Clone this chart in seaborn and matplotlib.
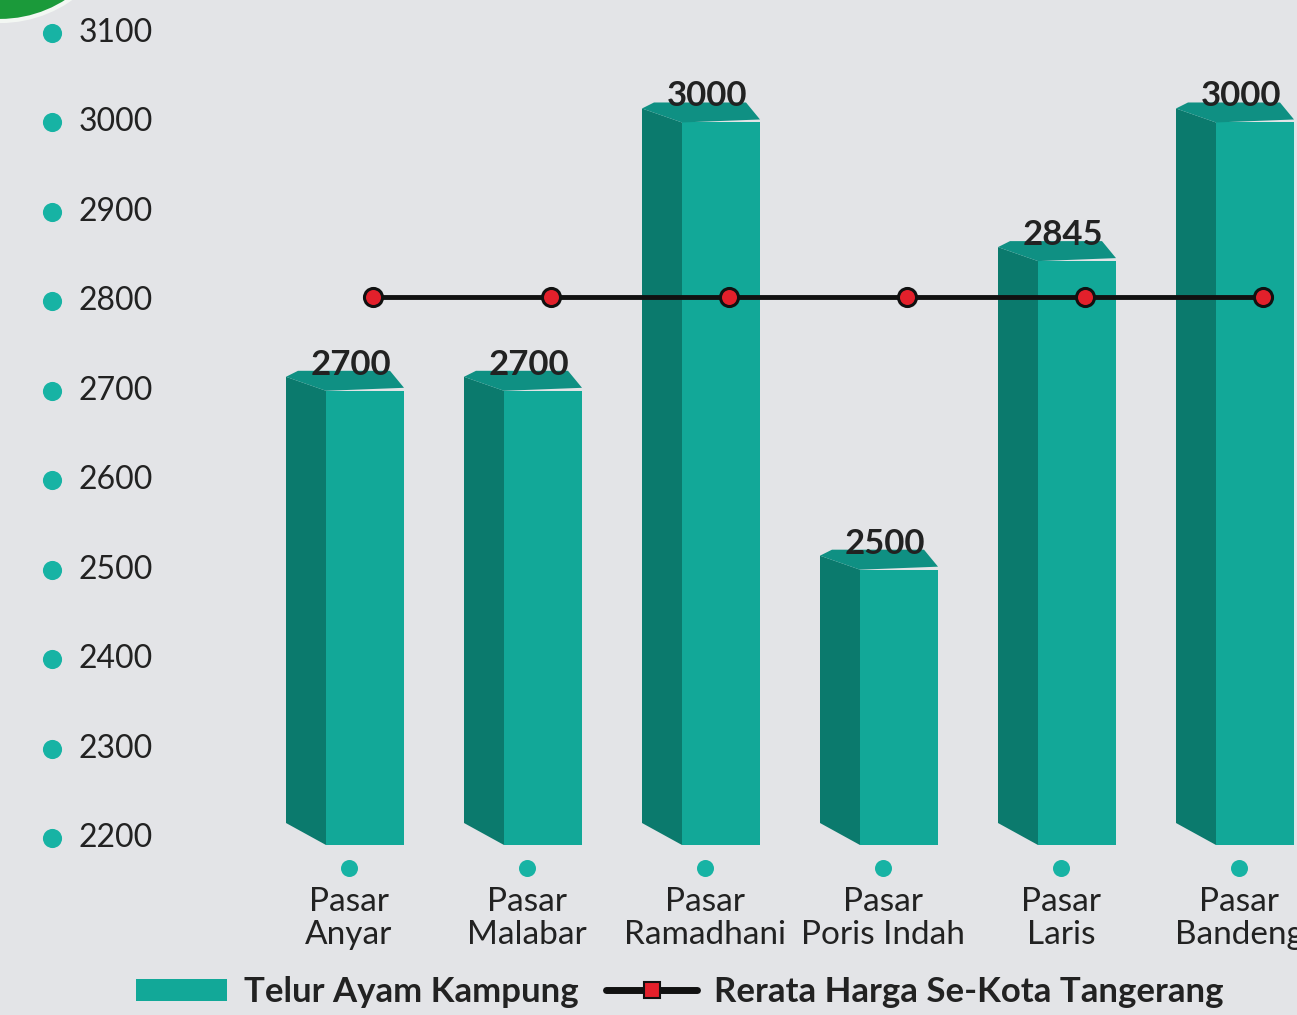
import numpy as np
import pandas as pd
import matplotlib.pyplot as plt
import seaborn as sns
from matplotlib.patches import Polygon, Circle, Patch
from matplotlib.lines import Line2D
import matplotlib.transforms as mtransforms

# chart data
pasar = ["Pasar\nAnyar", "Pasar\nMalabar", "Pasar\nRamadhani", "Pasar\nPoris Indah", "Pasar\nLaris", "Pasar\nBandeng"]
harga_telur = [2700, 2700, 3000, 2500, 2845, 3000]
rerata_kota = [2805, 2805, 2805, 2805, 2805, 2805]
y_ticks = [2200, 2300, 2400, 2500, 2600, 2700, 2800, 2900, 3000, 3100]

# colours
FRONT = "#12a898"
SIDE = "#0b7a6d"
TOP = "#0f9083"
DOT = "#17b3a4"
BG = "#e3e4e7"
TXT = "#222222"

sns.set_style("white")
plt.rcParams["font.family"] = ["Lato", "DejaVu Sans"]

W, H = 1297, 1015
fig = plt.figure(figsize=(W / 100, H / 100), dpi=100)
fig.patch.set_facecolor(BG)
ax = fig.add_axes([0, 0, 1, 1])
ax.set_facecolor(BG)

# pixel <-> data scale
px_x = 1 / 178.0          # data units per pixel in x
px_y = 100 / 89.44        # data units per pixel in y
xlim = (-345 * px_x, (W - 345) * px_x)
ylim = (2200 - (H - 838) * px_y, 2200 + 838 * px_y)
base = 2200 - 7 * px_y

df = pd.DataFrame({"pasar": pasar, "harga": harga_telur})
front_w = 78 * px_x
side_w = 40 * px_x
sns.barplot(data=df, x="pasar", y="harga", color=FRONT, width=front_w,
            saturation=1, ax=ax, zorder=2)
ax.set_xlim(*xlim)
ax.set_ylim(*ylim)

for i, (bar, val) in enumerate(zip(ax.patches, harga_telur)):
    # shift the front face right so side + front are centred on the category
    fx = i - 59 * px_x + side_w
    bar.set_x(fx)
    bar.set_y(base)
    bar.set_height(val - base)
    bar.set_edgecolor("none")
    x0 = fx - side_w
    top_up = 14 * px_y
    # dark left face
    side = Polygon([(x0, base + 22 * px_y), (x0, val + top_up), (fx, val),
                    (fx, base)], closed=True, fc=SIDE, ec="none", zorder=2)
    ax.add_patch(side)
    # roof
    roof = Polygon([(x0, val + top_up), (x0 + 12 * px_x, val + 20 * px_y),
                    (fx + front_w - 14 * px_x, val + 20 * px_y),
                    (fx + front_w, val + 3 * px_y), (fx, val)],
                   closed=True, fc=TOP, ec="none", zorder=2)
    ax.add_patch(roof)
    # value label
    ax.text(i + 6 * px_x, val + 16 * px_y, f"{val}", ha="center", va="baseline",
            fontsize=25, fontweight="bold", color=TXT, zorder=5)

# average line
xs = np.arange(len(pasar)) + 28 * px_x
ax.plot(xs, rerata_kota, color="#111111", lw=3.5, marker="o", ms=13,
        mfc="#e3202b", mec="#111111", mew=2.2, zorder=4)

# y tick dots + labels (left column)
trans = mtransforms.blended_transform_factory(ax.transAxes, ax.transData)
ax.scatter([52 / W] * len(y_ticks), y_ticks, s=190, color=DOT,
           transform=trans, zorder=3, linewidths=0)
for t in y_ticks:
    ax.text(79 / W, t, str(t), transform=trans, ha="left", va="center",
            fontsize=23, color=TXT)

# x tick dots + labels
lab_y = 2200 - (868 - 838) * px_y
ax.scatter(np.arange(len(pasar)) + 4 * px_x, [lab_y] * len(pasar), s=150,
           color=DOT, zorder=3, linewidths=0)
for i, name in enumerate(pasar):
    ax.text(i + 4 * px_x, lab_y - 19 * px_y, name, ha="center", va="top",
            fontsize=24, color=TXT, linespacing=1.12)

ax.set_xticks([])
ax.set_yticks([])
ax.set_xlabel("")
ax.set_ylabel("")
for s in ax.spines.values():
    s.set_visible(False)

# green corner decoration (pixel coordinates)
corner = Circle((0, H + 102), 123, transform=mtransforms.IdentityTransform(),
                fc="#1b9a3a", ec="#f3f7f3", lw=3, zorder=6)
fig.patches.append(corner)

# legend
handles = [Patch(fc=FRONT, ec="none"),
           Line2D([0], [0], color="#111111", lw=5, marker="s", ms=11,
                  mfc="#e3202b", mec="#111111", mew=1.5)]
labels = ["Telur Ayam Kampung", "Rerata Harga Se-Kota Tangerang"]
leg = fig.legend(handles, labels, loc="center", bbox_to_anchor=(680 / W, 1 - 992 / H),
                 ncol=2, frameon=False, fontsize=25, handlelength=2.6,
                 handleheight=0.6, columnspacing=0.8, handletextpad=0.5)
for t in leg.get_texts():
    t.set_fontweight("bold")
    t.set_color(TXT)

fig.savefig("out.png", dpi=100, facecolor=BG)
